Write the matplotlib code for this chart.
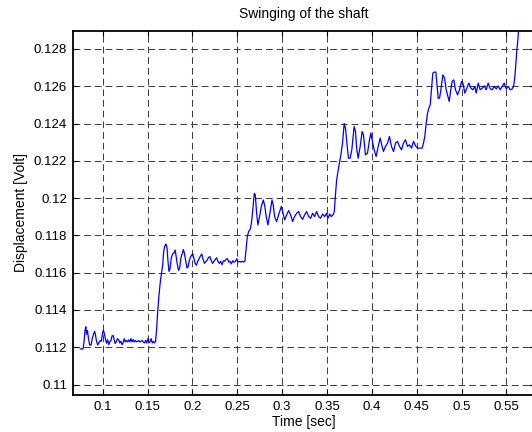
import matplotlib
matplotlib.use("Agg")
import matplotlib.pyplot as plt

plt.rcParams['font.family'] = ['Liberation Sans', 'DejaVu Sans']
plt.rcParams['lines.scale_dashes'] = False

title = "Swinging of the shaft"
xlabel = "Time [sec]"
ylabel = "Displacement [Volt]"

xticks = [0.1, 0.15, 0.2, 0.25, 0.3, 0.35, 0.4, 0.45, 0.5, 0.55]
xtick_labels = ["0.1", "0.15", "0.2", "0.25", "0.3", "0.35", "0.4", "0.45", "0.5", "0.55"]
yticks = [0.11, 0.112, 0.114, 0.116, 0.118, 0.12, 0.122, 0.124, 0.126, 0.128]
ytick_labels = ["0.11", "0.112", "0.114", "0.116", "0.118", "0.12", "0.122", "0.124", "0.126", "0.128"]

time_s = [
    0.0751, 0.0781, 0.0792, 0.0803, 0.0812, 0.0820, 0.0830, 0.0842, 0.0855, 0.0870,
    0.0885, 0.0898, 0.0910, 0.0918, 0.0930, 0.0945, 0.0958, 0.0972, 0.0985, 0.0998,
    0.1007, 0.1015, 0.1028, 0.1042, 0.1055, 0.1068, 0.1080, 0.1092, 0.1105, 0.1118,
    0.1128, 0.1140, 0.1152, 0.1165, 0.1178, 0.1190, 0.1203, 0.1215, 0.1228, 0.1240,
    0.1252, 0.1265, 0.1278, 0.1290, 0.1303, 0.1315, 0.1328, 0.1340, 0.1352, 0.1365,
    0.1378, 0.1390, 0.1403, 0.1415, 0.1428, 0.1440, 0.1452, 0.1465, 0.1478, 0.1490,
    0.1503, 0.1515, 0.1528, 0.1540, 0.1552, 0.1565, 0.1578, 0.1590,
    0.1602, 0.1613, 0.1628, 0.1643, 0.1658, 0.1669, 0.1680, 0.1691, 0.1706, 0.1717,
    0.1728, 0.1739, 0.1750, 0.1765, 0.1780, 0.1795, 0.1806, 0.1815, 0.1830, 0.1845,
    0.1858, 0.1872, 0.1885, 0.1899, 0.1910, 0.1925, 0.1940, 0.1952, 0.1968, 0.1985,
    0.2003, 0.2015, 0.2030, 0.2045, 0.2058, 0.2075, 0.2090, 0.2105, 0.2120, 0.2135,
    0.2150, 0.2165, 0.2180, 0.2195, 0.2210, 0.2225, 0.2240, 0.2256, 0.2270, 0.2285,
    0.2300, 0.2315, 0.2330, 0.2345, 0.2360, 0.2375, 0.2390, 0.2405, 0.2420, 0.2434,
    0.2450, 0.2465, 0.2480, 0.2495, 0.2510, 0.2525, 0.2540, 0.2555, 0.2570, 0.2585,
    0.2597, 0.2612, 0.2626, 0.2645, 0.2660, 0.2675, 0.2690, 0.2701, 0.2716, 0.2730,
    0.2749, 0.2768, 0.2790, 0.2805, 0.2823, 0.2842, 0.2864, 0.2887, 0.2901, 0.2916,
    0.2939, 0.2961, 0.2991, 0.3006, 0.3028, 0.3050, 0.3073, 0.3095, 0.3117, 0.3139,
    0.3162, 0.3184, 0.3206, 0.3229, 0.3251, 0.3273, 0.3296, 0.3318, 0.3340, 0.3362,
    0.3385, 0.3407, 0.3429, 0.3452, 0.3474, 0.3496, 0.3511, 0.3530, 0.3548, 0.3567,
    0.3582, 0.3593, 0.3608, 0.3623, 0.3638, 0.3652, 0.3673, 0.3692, 0.3707, 0.3725,
    0.3740, 0.3758, 0.3777, 0.3803, 0.3818, 0.3833, 0.3848, 0.3870, 0.3892, 0.3907,
    0.3929, 0.3952, 0.3974, 0.3989, 0.4004, 0.4026, 0.4048, 0.4071, 0.4093, 0.4115,
    0.4130, 0.4152, 0.4175, 0.4197, 0.4219, 0.4242, 0.4264, 0.4286, 0.4309, 0.4331,
    0.4353, 0.4375, 0.4398, 0.4420, 0.4442, 0.4465, 0.4487, 0.4509, 0.4539, 0.4561,
    0.4576, 0.4591, 0.4606, 0.4621, 0.4636, 0.4651, 0.4665, 0.4680, 0.4695, 0.4714,
    0.4725, 0.4740, 0.4755, 0.4770, 0.4792, 0.4811, 0.4829, 0.4844, 0.4863, 0.4877,
    0.4896, 0.4914, 0.4933, 0.4955, 0.4978, 0.5000, 0.5015, 0.5037, 0.5059, 0.5082,
    0.5104, 0.5126, 0.5149, 0.5164, 0.5186, 0.5208, 0.5231, 0.5253, 0.5275, 0.5297,
    0.5320, 0.5342, 0.5364, 0.5387, 0.5409, 0.5431, 0.5454, 0.5476, 0.5498, 0.5520,
    0.5543, 0.5565, 0.5580, 0.5595, 0.5606, 0.5617, 0.5628, 0.5645,
]
displacement_v = [
    0.11191, 0.11191, 0.11230, 0.11290, 0.11310, 0.11270, 0.11290, 0.11245, 0.11212, 0.11212,
    0.11250, 0.11270, 0.11285, 0.11270, 0.11235, 0.11212, 0.11225, 0.11236, 0.11232, 0.11275,
    0.11292, 0.11280, 0.11250, 0.11222, 0.11240, 0.11214, 0.11230, 0.11236, 0.11262, 0.11262,
    0.11240, 0.11220, 0.11230, 0.11246, 0.11240, 0.11223, 0.11232, 0.11214, 0.11225, 0.11246,
    0.11229, 0.11236, 0.11229, 0.11240, 0.11229, 0.11246, 0.11229, 0.11241, 0.11229, 0.11236,
    0.11229, 0.11232, 0.11236, 0.11229, 0.11232, 0.11236, 0.11229, 0.11223, 0.11236, 0.11223,
    0.11246, 0.11223, 0.11232, 0.11246, 0.11223, 0.11232, 0.11223, 0.11232,
    0.11304, 0.11393, 0.11482, 0.11554, 0.11607, 0.11643, 0.11715, 0.11742, 0.11754, 0.11733,
    0.11661, 0.11607, 0.11620, 0.11680, 0.11700, 0.11706, 0.11722, 0.11700, 0.11650, 0.11612,
    0.11625, 0.11680, 0.11700, 0.11724, 0.11706, 0.11665, 0.11625, 0.11632, 0.11670, 0.11690,
    0.11702, 0.11680, 0.11650, 0.11640, 0.11660, 0.11675, 0.11690, 0.11700, 0.11670, 0.11650,
    0.11660, 0.11668, 0.11682, 0.11686, 0.11665, 0.11650, 0.11661, 0.11672, 0.11680, 0.11661,
    0.11650, 0.11661, 0.11643, 0.11664, 0.11661, 0.11672, 0.11675, 0.11657, 0.11661, 0.11647,
    0.11664, 0.11657, 0.11661, 0.11675, 0.11657, 0.11661, 0.11657, 0.11661, 0.11657, 0.11661,
    0.11722, 0.11793, 0.11820, 0.11833, 0.11874, 0.11946, 0.12026, 0.12017, 0.11919, 0.11856,
    0.11901, 0.11955, 0.11990, 0.11963, 0.11901, 0.11856, 0.11919, 0.11990, 0.11963, 0.11901,
    0.11874, 0.11910, 0.11955, 0.11928, 0.11883, 0.11910, 0.11933, 0.11910, 0.11874, 0.11901,
    0.11919, 0.11928, 0.11901, 0.11886, 0.11910, 0.11928, 0.11901, 0.11892, 0.11919, 0.11901,
    0.11928, 0.11901, 0.11892, 0.11915, 0.11901, 0.11919, 0.11892, 0.11915, 0.11901, 0.11910,
    0.11928, 0.12008, 0.12098, 0.12143, 0.12187, 0.12223, 0.12292, 0.12400, 0.12373, 0.12280,
    0.12214, 0.12214, 0.12259, 0.12384, 0.12357, 0.12259, 0.12214, 0.12277, 0.12357, 0.12340,
    0.12232, 0.12241, 0.12313, 0.12349, 0.12313, 0.12259, 0.12223, 0.12277, 0.12322, 0.12277,
    0.12250, 0.12277, 0.12295, 0.12331, 0.12277, 0.12250, 0.12295, 0.12304, 0.12277, 0.12259,
    0.12295, 0.12313, 0.12277, 0.12286, 0.12268, 0.12304, 0.12281, 0.12268, 0.12268, 0.12268,
    0.12295, 0.12331, 0.12402, 0.12456, 0.12483, 0.12500, 0.12581, 0.12670, 0.12676, 0.12676,
    0.12617, 0.12536, 0.12536, 0.12581, 0.12661, 0.12643, 0.12581, 0.12554, 0.12518, 0.12572,
    0.12626, 0.12634, 0.12581, 0.12554, 0.12581, 0.12626, 0.12617, 0.12563, 0.12590, 0.12617,
    0.12590, 0.12581, 0.12599, 0.12563, 0.12617, 0.12581, 0.12590, 0.12602, 0.12581, 0.12617,
    0.12586, 0.12581, 0.12599, 0.12586, 0.12602, 0.12581, 0.12599, 0.12617, 0.12586, 0.12599,
    0.12581, 0.12586, 0.12599, 0.12652, 0.12724, 0.12795, 0.12849, 0.12960,
]

W, H = 532, 432
fig = plt.figure(figsize=(W / 100, H / 100), dpi=100)
left_px, right_px, top_px, bottom_px = 72.7, 534.0, 30.7, 395.0
ax = fig.add_axes([left_px / W, 1 - bottom_px / H,
                   (right_px - left_px) / W, (bottom_px - top_px) / H])

ax.plot(time_s, displacement_v, color='#0000ff', linewidth=0.9, zorder=3)

ax.set_xlim(0.06656, 0.5808)
ax.set_ylim(0.10944, 0.12898)
ax.set_xticks(xticks)
ax.set_xticklabels(xtick_labels)
ax.set_yticks(yticks)
ax.set_yticklabels(ytick_labels)

ax.grid(True, color='#404040', linestyle=(0, (4.8, 2.9)), linewidth=0.75)
ax.tick_params(direction='in', length=3.5, width=0.8, top=True, right=True,
               labelsize=9.5, pad=4, colors='black')
for side in ['left', 'bottom', 'top', 'right']:
    ax.spines[side].set_linewidth(1.3)
    ax.spines[side].set_color('black')

ax.set_title(title, fontsize=10, pad=9)
ax.set_xlabel(xlabel, fontsize=10, labelpad=2)
ax.set_ylabel(ylabel, fontsize=10, labelpad=4)

fig.savefig("out.png", dpi=100)
